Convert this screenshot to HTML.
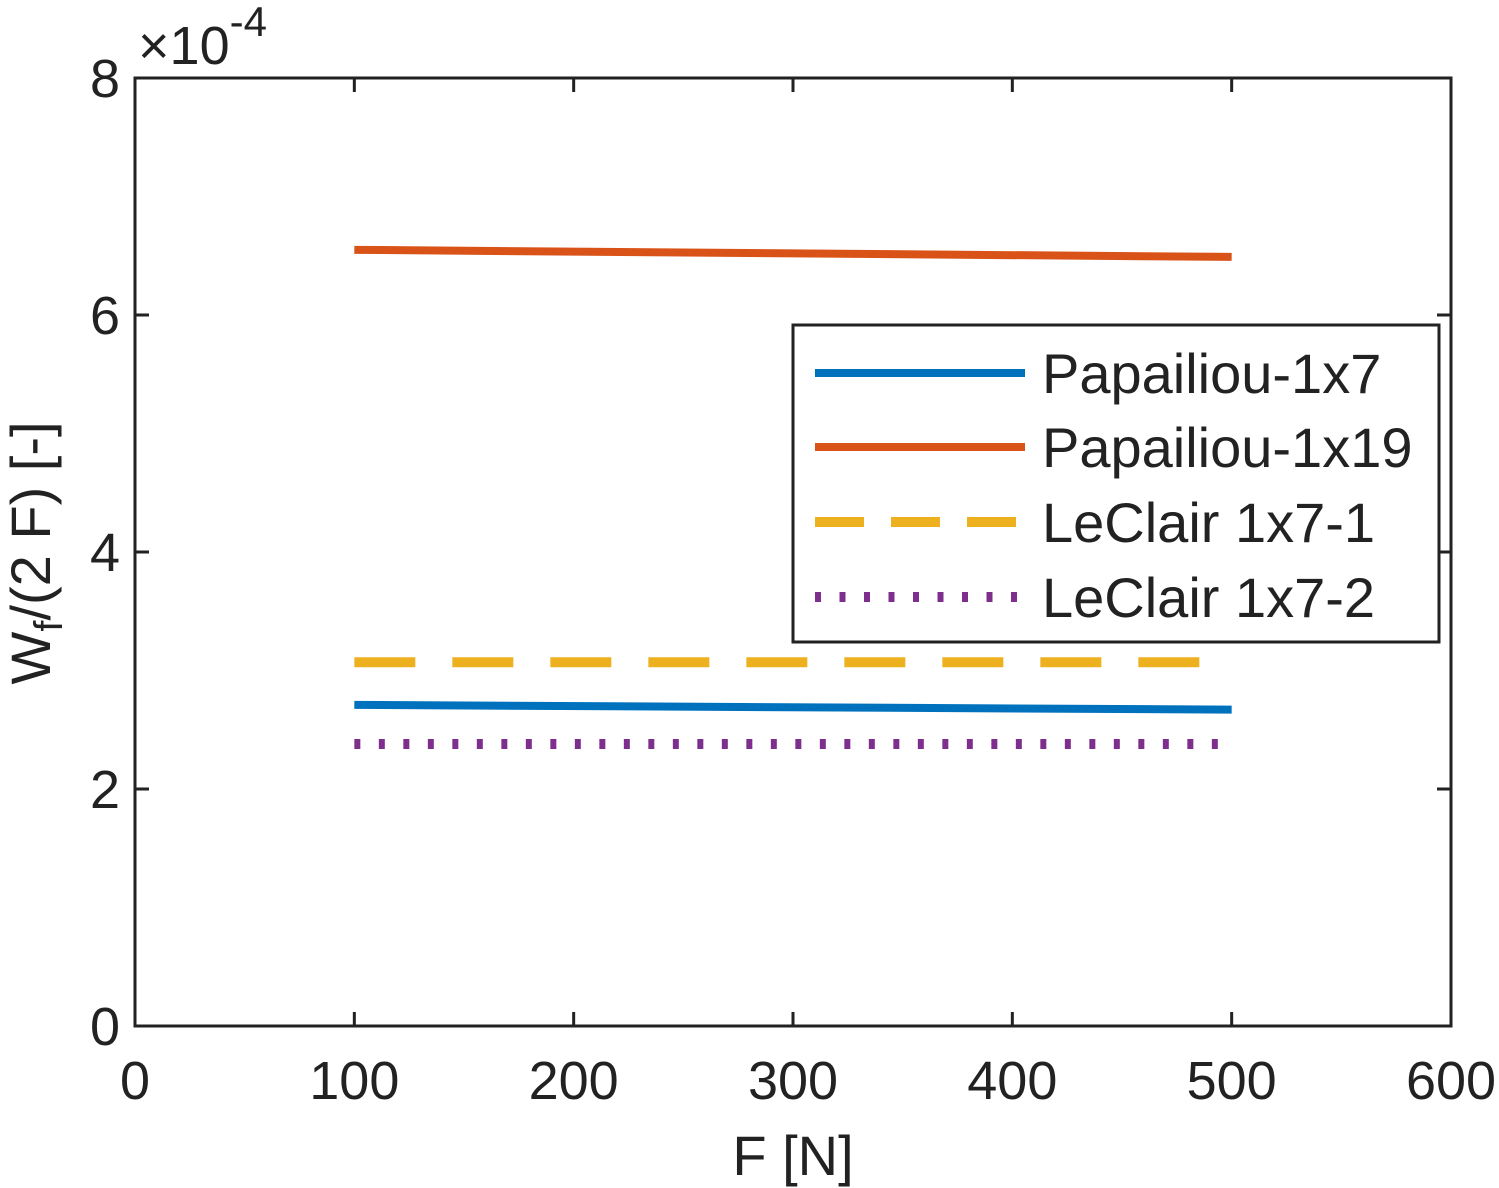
<!DOCTYPE html>
<html><head><meta charset="utf-8"><style>
html,body{margin:0;padding:0;background:#fff;}
svg{display:block;font-family:"Liberation Sans",Arial,sans-serif;}
</style></head><body>
<svg id="chart" width="1499" height="1188" viewBox="0 0 1499 1188" xmlns="http://www.w3.org/2000/svg">
<rect x="0" y="0" width="1499" height="1188" fill="#fff"/>
<g id="series"></g>
<g id="axes"></g>
<g id="legend"></g>
</svg>
<script>
const xTicks = [0, 100, 200, 300, 400, 500, 600];
const yTicks = [0, 2, 4, 6, 8];
const seriesNames = ["Papailiou-1x7", "Papailiou-1x19", "LeClair 1x7-1", "LeClair 1x7-2"];
const forces = [100, 500];
const papailiou1x7 = [2.71, 2.67];
const papailiou1x19 = [6.55, 6.49];
const leclair1 = [3.07, 3.07];
const leclair2 = [2.38, 2.38];

const NS = "http://www.w3.org/2000/svg";
const L = 135, R = 1451, T = 78, B = 1026;
const xS = v => L + (v - 0) / 600 * (R - L);
const yS = v => B - (v - 0) / 8 * (B - T);
function mk(tag, attrs, parent) {
  const e = document.createElementNS(NS, tag);
  for (const k in attrs) e.setAttribute(k, attrs[k]);
  parent.appendChild(e);
  return e;
}
const series = document.getElementById('series');
const axes = document.getElementById('axes');
const legend = document.getElementById('legend');

const styles = [
  {c: "#0072BD", w: 8, d: null, data: papailiou1x7},
  {c: "#D95319", w: 8, d: null, data: papailiou1x19},
  {c: "#EDB120", w: 10, d: "61 37", data: leclair1},
  {c: "#7E2F8E", w: 10, d: "6 18.5", data: leclair2}
];
styles.forEach((s, i) => {
  const pts = forces.map((f, j) => xS(f) + "," + yS(s.data[j])).join(" ");
  const a = {points: pts, fill: "none", stroke: s.c, "stroke-width": s.w};
  if (s.d) a["stroke-dasharray"] = s.d;
  const pl = mk('polyline', a, series);
  
  
});

const box = mk('rect', {x: L, y: T, width: R - L, height: B - T, fill: "none", stroke: "#222", "stroke-width": 3}, axes);


xTicks.forEach(v => {
  const x = xS(v);
  mk('line', {x1: x, y1: B, x2: x, y2: B - 14, stroke: "#222", "stroke-width": 3}, axes);
  mk('line', {x1: x, y1: T, x2: x, y2: T + 14, stroke: "#222", "stroke-width": 3}, axes);
  const t = mk('text', {x: x, y: 1099, "font-size": 54, "text-anchor": "middle", fill: "#222"}, axes);
  t.textContent = v;
  
  
});
yTicks.forEach(v => {
  const y = yS(v);
  mk('line', {x1: L, y1: y, x2: L + 14, y2: y, stroke: "#222", "stroke-width": 3}, axes);
  mk('line', {x1: R, y1: y, x2: R - 14, y2: y, stroke: "#222", "stroke-width": 3}, axes);
  const t = mk('text', {x: 120, y: y + 19, "font-size": 54, "text-anchor": "end", fill: "#222"}, axes);
  t.textContent = v;
  
  
});
const ex = mk('text', {x: 138, y: 64, "font-size": 54, fill: "#222"}, axes);
ex.innerHTML = '×10<tspan dy="-28" font-size="42">-4</tspan>';


const xt = mk('text', {x: 793, y: 1175, "font-size": 56, "text-anchor": "middle", fill: "#222"}, axes);
xt.textContent = "F [N]";


const yt = mk('text', {x: 0, y: 0, "font-size": 56, "text-anchor": "middle", fill: "#222", transform: "translate(50,553) rotate(-90)"}, axes);
yt.innerHTML = 'W<tspan dy="12" font-size="40">f</tspan><tspan dy="-12">/(2 F) [-]</tspan>';



const lb = mk('rect', {x: 793, y: 325, width: 646, height: 317, fill: "#fff", stroke: "#222", "stroke-width": 3}, legend);


const ly = [373, 447, 522, 597];
styles.forEach((s, i) => {
  const a = {x1: 815, y1: ly[i], x2: 1025, y2: ly[i], stroke: s.c, "stroke-width": s.w};
  if (s.d) a["stroke-dasharray"] = i === 2 ? "49 27" : "6 18.5";
  const ln = mk('line', a, legend);
  
  
  const t = mk('text', {x: 1042, y: ly[i] + 20, "font-size": 56, fill: "#222"}, legend);
  t.textContent = seriesNames[i];
  
  
});
</script>
</body></html>
